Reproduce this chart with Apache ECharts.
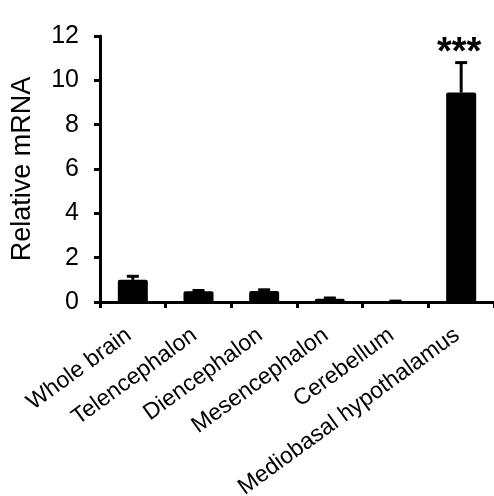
<!DOCTYPE html>
<html><head><meta charset="utf-8">
<script src="https://cdn.jsdelivr.net/npm/echarts@6/dist/echarts.min.js"></script>
<style>html,body{margin:0;padding:0;background:#fff}#c{width:494px;height:496px}</style>
</head><body><div id="c"></div>
<script>
const categories = ['Whole brain','Telencephalon','Diencephalon','Mesencephalon','Cerebellum','Mediobasal hypothalamus'];
const values = [1.0, 0.48, 0.5, 0.15, 0.03, 9.45];
const errors = [0.16, 0.04, 0.05, 0.03, 0.01, 1.35];
const significance = ['', '', '', '', '', '***'];
const yTicks = [0, 2, 4, 6, 8, 10, 12];

const chart = echarts.init(document.getElementById('c'));
const font = 'Liberation Sans, Arial, sans-serif';
chart.setOption({
  animation: false,
  grid: {left: 100, right: 0, top: 36, bottom: 194, containLabel: false, outerBoundsMode: 'none'},
  xAxis: {
    type: 'category', data: categories,
    axisLine: {lineStyle: {color: '#000', width: 3}},
    axisTick: {show: true, alignWithLabel: false, length: 6, lineStyle: {color: '#000', width: 3}},
    axisLabel: {rotate: 36, fontFamily: font, fontSize: 23, color: '#000', margin: 28, interval: 0, padding: [0, 5, 0, 0]}
  },
  yAxis: {
    type: 'value', min: yTicks[0], max: yTicks[yTicks.length-1], interval: 2,
    name: 'Relative mRNA', nameLocation: 'middle', nameGap: 64, nameRotate: 90,
    nameTextStyle: {fontFamily: font, fontSize: 27, color: '#000'},
    axisLine: {show: true, lineStyle: {color: '#000', width: 3}},
    axisTick: {show: true, length: 6, lineStyle: {color: '#000', width: 3}},
    splitLine: {show: false},
    axisLabel: {fontFamily: font, fontSize: 25, color: '#000', margin: 21}
  },
  series: [
    {
      type: 'bar', data: values, barWidth: 30,
      itemStyle: {color: '#000', borderRadius: [2,2,0,0]}, z: 2
    },
    {
      type: 'custom', z: 3,
      data: values.map((v, i) => [i, v, v + errors[i], significance[i]]),
      renderItem: function (params, api) {
        const base = api.coord([api.value(0), api.value(1)]);
        const top = api.coord([api.value(0), api.value(2)]);
        const half = 6;
        const children = [
          {type: 'line', shape: {x1: base[0], y1: base[1], x2: top[0], y2: top[1]}, style: {stroke: '#000', lineWidth: 3}},
          {type: 'line', shape: {x1: top[0]-half, y1: top[1], x2: top[0]+half, y2: top[1]}, style: {stroke: '#000', lineWidth: 3}}
        ];
        const s = significance[params.dataIndex];
        if (s) {
          children.push({type: 'text', x: top[0] - 2, y: top[1] - 9, style: {text: s, fill: '#000', font: 'bold 38px ' + font, align: 'center', verticalAlign: 'middle'}});
        }
        return {type: 'group', children: children};
      }
    }
  ]
});
</script></body></html>
